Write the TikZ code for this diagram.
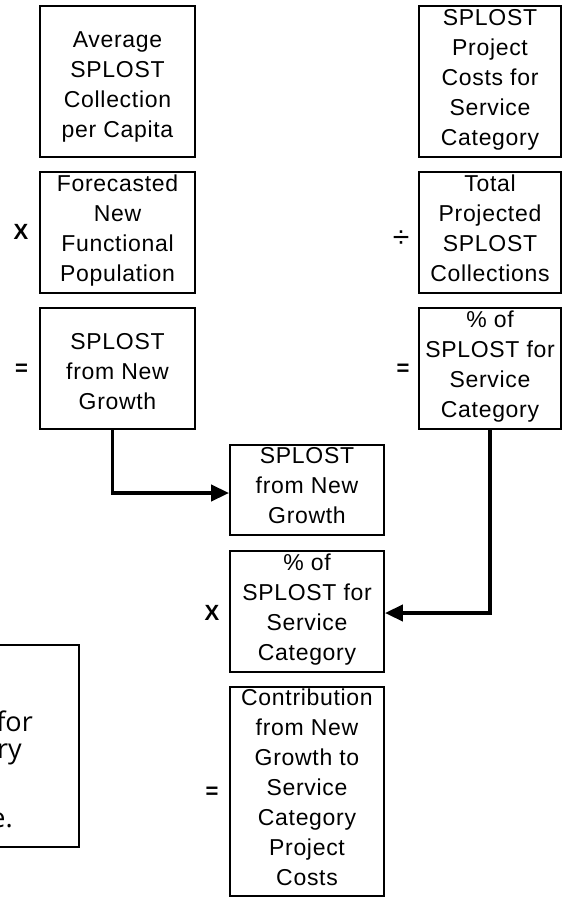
\documentclass[tikz,border=0pt]{standalone}
\usepackage{fontspec}
\setmainfont[LetterSpace=3]{Liberation Sans}
\newfontfamily\notefont{Open Sans}
\usetikzlibrary{arrows.meta}
\begin{document}
\begin{tikzpicture}[x=1pt,y=-1pt,
    box/.style={draw,line width=1.8pt,inner sep=0pt,align=center,font=\fontsize{23}{30}\selectfont,execute at begin node=\strut,execute at end node=\strut},
    op/.style={inner sep=0pt,font=\fontsize{22}{24}\selectfont\bfseries},
    flow/.style={line width=3.8pt,-{Triangle[length=18pt,width=16pt]}},
    notetext/.style={inner sep=0pt,anchor=base east,font=\notefont\fontsize{27}{27}\selectfont}]
\path[use as bounding box,clip] (0,0) rectangle (562,897);
                \node[box,minimum width=155pt,minimum height=151pt] (avg) at (117.5,81.5) {\mbox{}\\Average\\SPLOST\\Collection\\per Capita};
                \node[box,minimum width=155pt,minimum height=121pt] (pop) at (117.5,232.5) {Forecasted\\New\\Functional\\Population};
                \node[box,minimum width=155pt,minimum height=121pt] (growth) at (117.5,368.5) {\mbox{}\\SPLOST\\from New\\Growth};
                \node[box,minimum width=142pt,minimum height=151pt] (cost) at (490,81.5) {SPLOST\\Project\\Costs for\\Service\\Category};
                \node[box,minimum width=142pt,minimum height=121pt] (total) at (490,232.5) {Total\\Projected\\SPLOST\\Collections};
                \node[box,minimum width=142pt,minimum height=121pt] (share) at (490,368.5) {\% of\\SPLOST for\\Service\\Category};
                \node[box,minimum width=154pt,minimum height=90pt] (growth2) at (307,490) {SPLOST\\from New\\Growth};
                \node[box,minimum width=154pt,minimum height=121pt] (share2) at (307,611.5) {\% of\\SPLOST for\\Service\\Category};
                \node[box,minimum width=154pt,minimum height=209pt] (contrib) at (307,791.5) {Contribution\\from New\\Growth to\\Service\\Category\\Project\\Costs};

                \node[op] (times1) at (21,232) {X}; \node[op] (eq1) at (21.5,370) {=};
                \node[op,font=\fontsize{30}{30}\selectfont] (div) at (401,239) {÷}; \node[op] (eq2) at (403,370) {=};
                \node[op] (times2) at (212,613) {X}; \node[op] (eq3) at (212,793) {=};

                \node[draw,line width=1.6pt,minimum width=139pt,minimum height=202pt] (note) at (9.5,746) {};
                \node[notetext] (notea) at (33,731) {for}; \node[notetext] (noteb) at (22,758) {ry}; \node[notetext] (notec) at (13,827) {e.};

                \draw[flow] ([xshift=-5pt]growth.south) |- ([yshift=-3pt]growth2.west);
                \draw[flow] (share.south) |- ([yshift=-1.5pt]share2.east);
            \end{tikzpicture}
\end{document}
